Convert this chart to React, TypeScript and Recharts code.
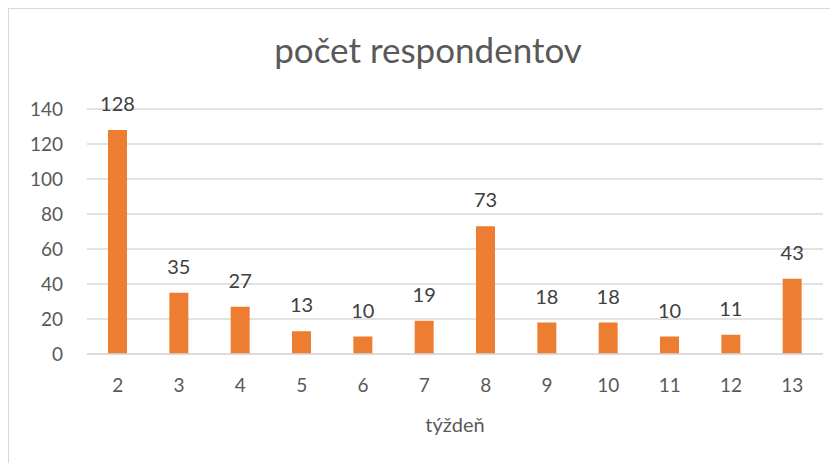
import React from 'react';
import { BarChart, Bar, XAxis, YAxis, CartesianGrid, LabelList } from 'recharts';

const weeks = ['2', '3', '4', '5', '6', '7', '8', '9', '10', '11', '12', '13'];
const respondents = [128, 35, 27, 13, 10, 19, 73, 18, 18, 10, 11, 43];
const yTicks = [0, 20, 40, 60, 80, 100, 120, 140];
const title = 'počet respondentov';
const xTitle = 'týždeň';

const data = weeks.map((w, i) => ({ week: w, value: respondents[i] }));

const FONT = 'Lato, Carlito, "Liberation Sans", sans-serif';

export default function App() {
  return (
    <div
      style={{
        position: 'relative',
        width: 840,
        height: 470,
        border: '1px solid #d9d9d9',
        boxSizing: 'border-box',
        background: '#fff',
        fontFamily: FONT,
      }}
    >
      <div
        style={{
          position: 'absolute',
          left: 0,
          width: 838,
          top: 19,
          textAlign: 'center',
          fontSize: 35,
          color: '#595959',
          lineHeight: '42px',
        }}
      >
        {title}
      </div>
      <div style={{ position: 'absolute', left: 0, top: 0 }}>
        <BarChart
          width={830}
          height={455}
          data={data}
          margin={{ top: 100, right: 16, left: 0, bottom: 0 }}
        >
          <CartesianGrid vertical={false} stroke="#d9d9d9" strokeWidth={1.3} />
          <XAxis
            dataKey="week"
            height={110}
            tickLine={false}
            axisLine={{ stroke: '#d9d9d9', strokeWidth: 1.3 }}
            tickMargin={19}
            tick={{ fill: '#595959', fontSize: 19, fontFamily: FONT }}
            label={{
              value: xTitle,
              position: 'insideBottom',
              offset: 32,
              fill: '#595959',
              fontSize: 20,
              fontFamily: FONT,
            }}
          />
          <YAxis
            width={78}
            domain={[0, 140]}
            ticks={yTicks}
            tickLine={false}
            axisLine={false}
            tickMargin={18}
            tick={{ fill: '#595959', fontSize: 19, fontFamily: FONT }}
          />
          <Bar dataKey="value" fill="#ed7d31" barSize={19} isAnimationActive={false}>
            <LabelList
              dataKey="value"
              position="top"
              offset={19}
              fill="#404040"
              fontSize={20}
              fontFamily={FONT}
            />
          </Bar>
        </BarChart>
      </div>
    </div>
  );
}
